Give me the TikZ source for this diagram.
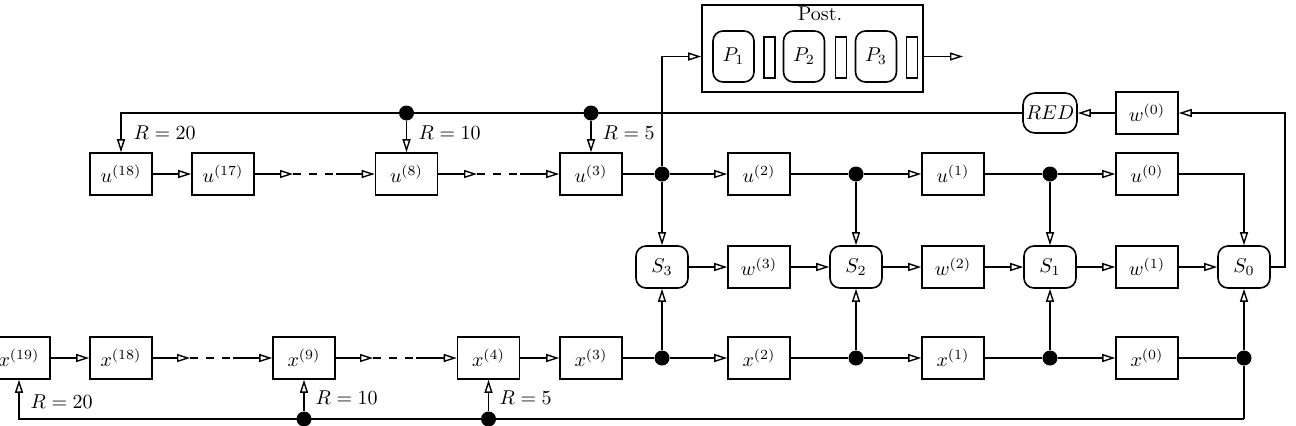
\documentclass[tikz,border=0pt]{standalone}
\usetikzlibrary{arrows.meta}
\tikzset{
  box/.style={draw, line width=0.8pt, minimum width=31pt, minimum height=21pt, inner sep=0pt},
  sbox/.style={draw, line width=0.8pt, rounded corners=5pt, minimum width=26pt, minimum height=21pt, inner sep=0pt},
  pbox/.style={draw, line width=0.8pt, rounded corners=5pt, minimum width=20.5pt, minimum height=25.5pt, inner sep=0pt},
  bar/.style={draw, line width=0.8pt, minimum width=5.5pt, minimum height=20.5pt, inner sep=0pt},
  dot/.style={circle, fill=black, minimum size=7.5pt, inner sep=0pt},
  arr/.style={-{Triangle[open, length=6.5pt, width=4pt]}},
  dsh/.style={dash pattern=on 4pt off 4pt},
  lbl/.style={anchor=west, inner sep=0pt},
}
\begin{document}
\begin{tikzpicture}[x=0.5pt, y=-0.5pt, line width=0.7pt]
\useasboundingbox (0,0) rectangle (1296,425);
% Post block
\node[draw, line width=0.8pt, minimum width=110.5pt, minimum height=43.5pt, inner sep=0pt] (post) at (812.5,48.5) {};
\node[inner sep=0pt] (posttxt) at (820,14) {Post.};
\node[pbox] (p1) at (733.5,56.5) {$P_1$};
\node[bar] (b1) at (769.5,57.5) {};
\node[pbox] (p2) at (804,56.5) {$P_2$};
\node[bar] (b2) at (841,57.5) {};
\node[pbox] (p3) at (876,56.5) {$P_3$};
\node[bar] (b3) at (912,57.5) {};
\coordinate (pout) at (963,56.5);
\draw[arr] (post.east |- p3) -- (pout);
% RED and w0
\node[sbox, minimum width=27pt, minimum height=20pt, rounded corners=6pt] (red) at (1050,113) {$RED$};
\node[box] (w0) at (1147,113) {$w^{(0)}$};
\draw[arr] (w0) -- (red);
% u row
\node[box] (u18) at (121,174) {$u^{(18)}$};
\node[box] (u17) at (223,174) {$u^{(17)}$};
\node[box] (u8) at (406.5,174) {$u^{(8)}$};
\node[box] (u3) at (591,174) {$u^{(3)}$};
\node[box] (u2) at (759,174) {$u^{(2)}$};
\node[box] (u1) at (953,174) {$u^{(1)}$};
\node[box] (u0) at (1147,174) {$u^{(0)}$};
\node[dot] (du3) at (662,174) {};
\node[dot] (du2) at (856,174) {};
\node[dot] (du1) at (1050,174) {};
\coordinate (c1) at (293,174);
\coordinate (c2) at (336,174);
\coordinate (c3) at (477,174);
\coordinate (c4) at (520,174);
% S row
\node[sbox] (s3) at (662,267) {$S_3$};
\node[box] (w3) at (759,267) {$w^{(3)}$};
\node[sbox] (s2) at (856,267) {$S_2$};
\node[box] (w2) at (953,267) {$w^{(2)}$};
\node[sbox] (s1) at (1050,267) {$S_1$};
\node[box] (w1) at (1147,267) {$w^{(1)}$};
\node[sbox] (s0) at (1244,267) {$S_0$};
% x row
\node[box] (x19) at (19,358) {$x^{(19)}$};
\node[box] (x18) at (121,358) {$x^{(18)}$};
\node[box] (x9) at (304,358) {$x^{(9)}$};
\node[box] (x4) at (488.5,358) {$x^{(4)}$};
\node[box] (x3) at (591,358) {$x^{(3)}$};
\node[box] (x2) at (759,358) {$x^{(2)}$};
\node[box] (x1) at (953,358) {$x^{(1)}$};
\node[box] (x0) at (1147,358) {$x^{(0)}$};
\node[dot] (dx3) at (662,358) {};
\node[dot] (dx2) at (856,358) {};
\node[dot] (dx1) at (1050,358) {};
\node[dot] (dx0) at (1244,358) {};
\coordinate (c5) at (190,358);
\coordinate (c6) at (233,358);
\coordinate (c7) at (373,358);
\coordinate (c8) at (416,358);
% top feedback
\node[dot] (dt1) at (406.5,113) {};
\node[dot] (dt2) at (591,113) {};
\draw[arr] (red.west) -| (u18.north);
\draw[arr] (dt1) -- (u8.north);
\draw[arr] (dt2) -- (u3.north);
\node[lbl] (l1) at (133,133) {$R=20$};
\node[lbl] (l2) at (418,133) {$R=10$};
\node[lbl] (l3) at (602,133) {$R=5$};
% bottom feedback
\node[dot] (db1) at (304,419) {};
\node[dot] (db2) at (488.5,419) {};
\coordinate (bb) at (1244,419);
\draw (dx0) -- (bb);
\draw[arr] (bb) -| (x19.south);
\draw[arr] (db1) -- (x9.south);
\draw[arr] (db2) -- (x4.south);
\node[lbl] (l4) at (30,402) {$R=20$};
\node[lbl] (l5) at (315,398) {$R=10$};
\node[lbl] (l6) at (499,398) {$R=5$};
% u row connectors
\draw[arr] (u18) -- (u17);
\draw[arr] (u17) -- (c1);
\draw[dsh] (c1) -- (c2);
\draw[arr] (c2) -- (u8);
\draw[arr] (u8) -- (c3);
\draw[dsh] (c3) -- (c4);
\draw[arr] (c4) -- (u3);
\draw (u3) -- (du3);
\draw[arr] (du3) -- (u2);
\draw (u2) -- (du2);
\draw[arr] (du2) -- (u1);
\draw (u1) -- (du1);
\draw[arr] (du1) -- (u0);
\draw[arr] (u0.east) -| (s0.north);
% verticals
\draw[arr] (du3) |- (post.west |- p1);
\draw[arr] (du3) -- (s3.north);
\draw[arr] (du2) -- (s2.north);
\draw[arr] (du1) -- (s1.north);
\draw[arr] (dx3) -- (s3.south);
\draw[arr] (dx2) -- (s2.south);
\draw[arr] (dx1) -- (s1.south);
\draw[arr] (dx0) -- (s0.south);
% S row connectors
\draw[arr] (s3) -- (w3);
\draw[arr] (w3) -- (s2);
\draw[arr] (s2) -- (w2);
\draw[arr] (w2) -- (s1);
\draw[arr] (s1) -- (w1);
\draw[arr] (w1) -- (s0);
\coordinate (rc) at (1285,113);
\draw[arr] (s0.east) -| (rc) -- (w0.east);
% x row connectors
\draw[arr] (x19) -- (x18);
\draw[arr] (x18) -- (c5);
\draw[dsh] (c5) -- (c6);
\draw[arr] (c6) -- (x9);
\draw[arr] (x9) -- (c7);
\draw[dsh] (c7) -- (c8);
\draw[arr] (c8) -- (x4);
\draw[arr] (x4) -- (x3);
\draw (x3) -- (dx3);
\draw[arr] (dx3) -- (x2);
\draw (x2) -- (dx2);
\draw[arr] (dx2) -- (x1);
\draw (x1) -- (dx1);
\draw[arr] (dx1) -- (x0);
\draw (x0) -- (dx0);
\end{tikzpicture}
\end{document}
